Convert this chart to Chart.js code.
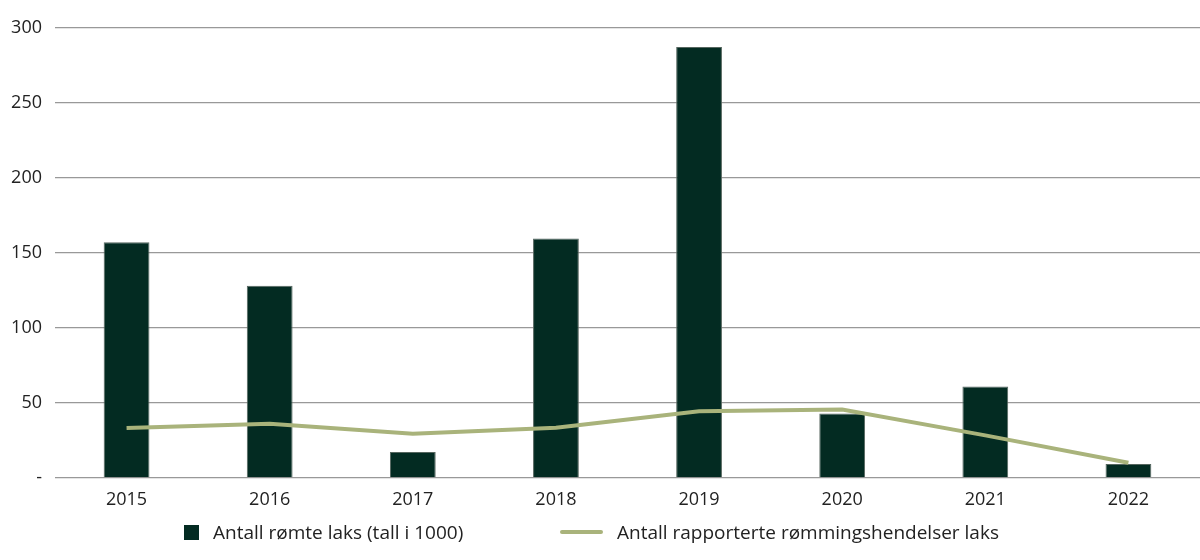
<!DOCTYPE html>
<html>
<head>
<meta charset="utf-8">
<script src="https://cdn.jsdelivr.net/npm/chart.js@4"></script>
<style>
  html, body { margin: 0; padding: 0; background: #fff; }
  #wrap { position: relative; width: 1200px; height: 560px; }
  #legend { position: absolute; top: 517px; left: 0; width: 1200px; height: 30px; font-family: "Open Sans", "Noto Sans", sans-serif; font-size: 19px; color: #222; }
  .item { position: absolute; top: 0; display: flex; align-items: center; height: 30px; white-space: nowrap; }
  .box { width: 15px; height: 15px; background: #032b22; margin-right: 14px; }
  .ln { width: 43px; height: 4px; background: #a9b37b; border-radius: 2px; margin-right: 14px; }
</style>
</head>
<body>
<div id="wrap">
  <canvas id="c" width="1200" height="560"></canvas>
  <div id="legend"></div>
</div>
<script>
const categories = ["2015", "2016", "2017", "2018", "2019", "2020", "2021", "2022"];
const escapedSalmon = [157, 128, 17.3, 159.5, 287, 43, 61, 9.3];
const reportedEvents = [33.3, 36.2, 29.5, 33.5, 44.4, 45.6, 28.4, 10.2];
const seriesNames = ["Antall rømte laks (tall i 1000)", "Antall rapporterte rømmingshendelser laks"];
const yTicks = [0, 50, 100, 150, 200, 250, 300];

const FONT = '"Open Sans", "Noto Sans", sans-serif';

new Chart(document.getElementById('c'), {
  data: {
    labels: categories,
    datasets: [
      {
        type: 'bar',
        label: seriesNames[0],
        data: escapedSalmon,
        backgroundColor: '#032b22',
        borderColor: '#56665f',
        borderWidth: 1,
        barPercentage: 0.32,
        categoryPercentage: 1,
        order: 2
      },
      {
        type: 'line',
        label: seriesNames[1],
        data: reportedEvents,
        borderColor: '#a9b37b',
        borderWidth: 4,
        pointRadius: 0,
        tension: 0,
        fill: false,
        order: 1
      }
    ]
  },
  options: {
    responsive: false,
    animation: false,
    devicePixelRatio: 1,
    layout: { padding: { top: 27.5, right: 0, bottom: 52, left: 0 } },
    plugins: { legend: { display: false }, tooltip: { enabled: false } },
    scales: {
      x: {
        grid: { display: false },
        border: { display: false },
        ticks: { font: { family: FONT, size: 18 }, color: '#222', padding: 3, maxRotation: 0 },
        afterFit: (s) => { s.height = 30; }
      },
      y: {
        min: 0, max: 300,
        afterBuildTicks: (s) => { s.ticks = yTicks.map(v => ({ value: v })); },
        grid: { color: '#999', lineWidth: 1.3, drawTicks: false },
        border: { display: false },
        ticks: {
          font: { family: FONT, size: 18 }, color: '#222', padding: 13,
          callback: (v) => v === 0 ? '-' : v
        },
        afterFit: (s) => { s.width = 55; }
      }
    }
  }
});

const legend = document.getElementById('legend');
const items = [
  { cls: 'box', left: 184, text: seriesNames[0] },
  { cls: 'ln', left: 560, text: seriesNames[1] }
];
items.forEach(it => {
  const d = document.createElement('div');
  d.className = 'item';
  d.style.left = it.left + 'px';
  const m = document.createElement('span');
  m.className = it.cls;
  const t = document.createElement('span');
  t.textContent = it.text;
  d.appendChild(m); d.appendChild(t);
  legend.appendChild(d);
});
</script>
</body>
</html>
